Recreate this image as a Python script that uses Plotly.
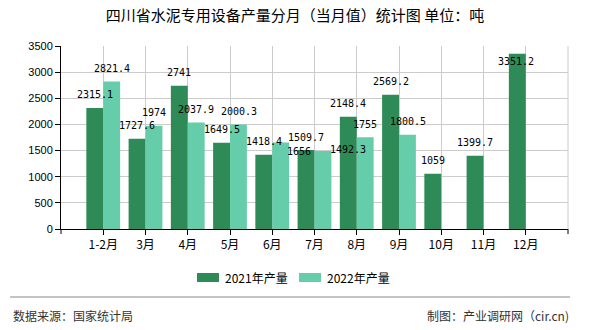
import plotly.graph_objects as go

categories = ["1-2月", "3月", "4月", "5月", "6月", "7月", "8月", "9月", "10月", "11月", "12月"]
series_names = ["2021年产量", "2022年产量"]
values_2021 = [2315.1, 1727.6, 2741, 1649.5, 1418.4, 1509.7, 2148.4, 2569.2, 1059, 1399.7, 3351.2]
values_2022 = [2821.4, 1974, 2037.9, 2000.3, 1656, 1492.3, 1755, 1800.5, None, None, None]
y_ticks = [0, 500, 1000, 1500, 2000, 2500, 3000, 3500]

colors = ["#2E8B57", "#66CDAA"]
W, H = 590, 330
L, R, T, B = 61, 22, 46, 101
PW, PH = W - L - R, H - T - B

# label placement tweaks (pixel shifts) for the collided labels
label_shift = {(1, 4): (18, -22), (1, 5): (25, -12), (0, 10): (-1, -21)}

fig = go.Figure()
all_vals = [values_2021, values_2022]
for i, (name, vals) in enumerate(zip(series_names, all_vals)):
    fig.add_trace(go.Bar(x=categories, y=vals, name=name, marker_color=colors[i],
                         marker_line_width=0, showlegend=False, hoverinfo="skip"))

def fmt(v):
    return ("%g" % v)

annotations = []
for i, vals in enumerate(all_vals):
    base_dx = -8.5 if i == 0 else 8.5
    for j, v in enumerate(vals):
        if v is None:
            continue
        dx, dy = label_shift.get((i, j), (0, 0))
        annotations.append(dict(x=categories[j], y=v, xref="x", yref="y", text=fmt(v),
                                showarrow=False, xanchor="center", yanchor="middle",
                                xshift=base_dx + dx, yshift=13 + dy,
                                font=dict(family="DejaVu Sans Mono", size=10, color="#000")))

def px_x(p):
    return (p - L) / PW

def px_y(p):
    return (H - B - p) / PH

shapes = []
# legend
leg_x = [197, 299]
for i, name in enumerate(series_names):
    x0 = leg_x[i]
    shapes.append(dict(type="rect", xref="paper", yref="paper", x0=px_x(x0), x1=px_x(x0 + 22),
                       y0=px_y(282), y1=px_y(273), fillcolor=colors[i], line_width=0))
    annotations.append(dict(x=px_x(x0 + 26), y=px_y(277.5), xref="paper", yref="paper", text=name,
                            showarrow=False, xanchor="left", yanchor="middle",
                            font=dict(family="Noto Sans CJK SC", size=12, color="#000")))
# right border
shapes.append(dict(type="line", xref="paper", yref="paper", x0=1, x1=1, y0=0, y1=1,
                   line=dict(color="#cccccc", width=1)))
# axis end ticks
for xp in (0, 1):
    shapes.append(dict(type="line", xref="paper", yref="paper", x0=xp, x1=xp, y0=0, y1=px_y(234),
                       line=dict(color="#000", width=1)))
# footer line
shapes.append(dict(type="line", xref="paper", yref="paper", x0=px_x(10), x1=px_x(570),
                   y0=px_y(297), y1=px_y(297), line=dict(color="#888888", width=1)))
annotations.append(dict(x=px_x(11), y=px_y(315), xref="paper", yref="paper", text="数据来源：国家统计局",
                        showarrow=False, xanchor="left", yanchor="middle",
                        font=dict(family="Noto Sans CJK SC", size=12, color="#333")))
annotations.append(dict(x=px_x(571), y=px_y(315), xref="paper", yref="paper", text="制图：产业调研网（cir.cn)",
                        showarrow=False, xanchor="right", yanchor="middle",
                        font=dict(family="Noto Sans CJK SC", size=12, color="#333")))

fig.update_layout(
    width=W, height=H,
    margin=dict(l=L, r=R, t=T, b=B),
    paper_bgcolor="#fff", plot_bgcolor="#fff",
    barmode="group", bargap=0.2, bargroupgap=0,
    title=dict(text="四川省水泥专用设备产量分月（当月值）统计图 单位：吨", x=0.5, xanchor="center",
               y=1 - 16 / H, yanchor="middle",
               font=dict(family="Noto Sans CJK SC", size=15, color="#000")),
    xaxis=dict(type="category", range=[-1, 11], showgrid=True, gridcolor="#cccccc", gridwidth=1,
               showline=True, linecolor="#000", linewidth=1, ticks="outside", ticklen=5,
               tickcolor="#000", tickfont=dict(family="Noto Sans CJK SC", size=12, color="#000"),
               fixedrange=True),
    yaxis=dict(range=[0, 3500], tickvals=y_ticks, showgrid=True, gridcolor="#cccccc", gridwidth=1,
               showline=True, linecolor="#000", linewidth=1, ticks="outside", ticklen=5,
               tickcolor="#000", zeroline=False,
               tickfont=dict(family="Liberation Sans", size=11, color="#000"), fixedrange=True),
    shapes=shapes, annotations=annotations,
)

fig.write_html("out.html")
